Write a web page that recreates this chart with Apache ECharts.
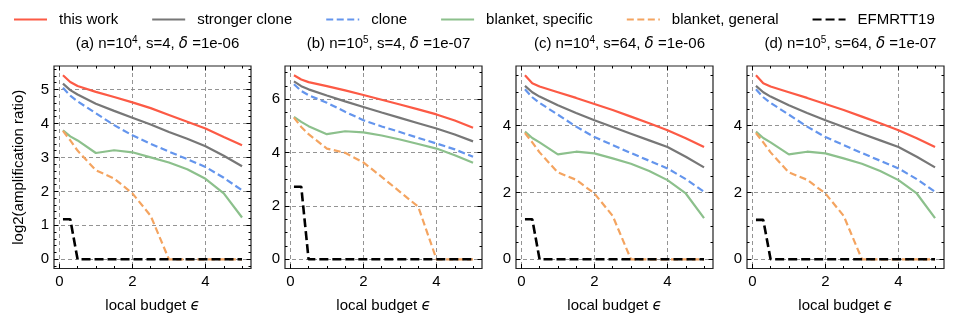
<!DOCTYPE html>
<html>
<head>
<meta charset="utf-8">
<script src="https://cdn.jsdelivr.net/npm/echarts@6/dist/echarts.min.js"></script>
<style>
    html, body { margin: 0; padding: 0; background: #fff; }
    #chart { width: 954px; height: 323px; }
</style>
</head>
<body>
<div id="chart"></div>
<script>
    // local budget eps (x values shared by all panels)
    const eps = [0.1, 0.3, 0.5, 1, 1.5, 2, 2.5, 3, 3.5, 4, 4.5, 5];

    // (a) n=10^4, s=4
    const aThisWork = [5.42, 5.22, 5.10, 4.93, 4.78, 4.62, 4.45, 4.25, 4.05, 3.85, 3.60, 3.36];
    const aStronger = [5.17, 4.98, 4.85, 4.58, 4.37, 4.17, 3.97, 3.75, 3.55, 3.33, 3.05, 2.74];
    const aClone = [5.05, 4.82, 4.65, 4.30, 3.95, 3.65, 3.40, 3.17, 2.95, 2.72, 2.40, 2.03];
    const aBlanketSpec = [3.80, 3.62, 3.50, 3.13, 3.21, 3.15, 3.00, 2.85, 2.65, 2.37, 1.94, 1.23];
    const aBlanketGen = [3.78, 3.50, 3.20, 2.62, 2.38, 1.94, 1.28, 0, 0, 0, 0, 0];
    const aEfm = [1.18, 1.18, 0, 0, 0, 0, 0, 0, 0, 0, 0, 0];

    // (b) n=10^5, s=4
    const bThisWork = [6.90, 6.74, 6.64, 6.49, 6.33, 6.16, 5.98, 5.80, 5.62, 5.43, 5.20, 4.93];
    const bStronger = [6.67, 6.49, 6.37, 6.14, 5.92, 5.71, 5.50, 5.30, 5.10, 4.90, 4.68, 4.42];
    const bClone = [6.56, 6.31, 6.15, 5.87, 5.53, 5.21, 4.98, 4.77, 4.55, 4.34, 4.12, 3.84];
    const bBlanketSpec = [5.34, 5.15, 4.99, 4.69, 4.80, 4.76, 4.64, 4.49, 4.32, 4.15, 3.90, 3.62];
    const bBlanketGen = [5.31, 4.96, 4.69, 4.15, 3.99, 3.63, 3.09, 2.53, 1.97, 0, 0, 0];
    const bEfm = [2.72, 2.72, 0, 0, 0, 0, 0, 0, 0, 0, 0, 0];

    // (c) n=10^4, s=64
    const cThisWork = [5.51, 5.27, 5.17, 5.00, 4.83, 4.65, 4.47, 4.27, 4.07, 3.86, 3.62, 3.36];
    const cStronger = [5.19, 5.00, 4.87, 4.61, 4.38, 4.16, 3.96, 3.76, 3.56, 3.36, 3.07, 2.75];
    const cClone = [5.09, 4.85, 4.68, 4.33, 3.97, 3.66, 3.42, 3.18, 2.95, 2.72, 2.40, 2.02];
    const cBlanketSpec = [3.82, 3.63, 3.50, 3.14, 3.22, 3.17, 3.02, 2.86, 2.64, 2.37, 1.97, 1.23];
    const cBlanketGen = [3.78, 3.50, 3.20, 2.60, 2.38, 1.97, 1.30, 0, 0, 0, 0, 0];
    const cEfm = [1.20, 1.20, 0, 0, 0, 0, 0, 0, 0, 0, 0, 0];

    // (d) n=10^5, s=64
    const dThisWork = [5.51, 5.27, 5.17, 5.00, 4.83, 4.65, 4.47, 4.27, 4.07, 3.86, 3.62, 3.36];
    const dStronger = [5.19, 5.00, 4.87, 4.61, 4.38, 4.16, 3.96, 3.76, 3.56, 3.36, 3.07, 2.75];
    const dClone = [5.09, 4.85, 4.68, 4.33, 3.97, 3.66, 3.42, 3.18, 2.95, 2.72, 2.40, 2.02];
    const dBlanketSpec = [3.82, 3.63, 3.50, 3.14, 3.22, 3.17, 3.02, 2.86, 2.64, 2.37, 1.97, 1.23];
    const dBlanketGen = [3.78, 3.50, 3.20, 2.60, 2.38, 1.97, 1.30, 0, 0, 0, 0, 0];
    const dEfm = [1.18, 1.18, 0, 0, 0, 0, 0, 0, 0, 0, 0, 0];

    const seriesNames = ['this work', 'stronger clone', 'clone', 'blanket, specific', 'blanket, general', 'EFMRTT19'];
    const panelTitles = [
        '(a) n=10{sup|4}, s=4, {d|δ} =1e-06',
        '(b) n=10{sup|5}, s=4, {d|δ} =1e-07',
        '(c) n=10{sup|4}, s=64, {d|δ} =1e-06',
        '(d) n=10{sup|5}, s=64, {d|δ} =1e-07'
    ];
    const xTicks = [0, 2, 4];
    const yTicksA = [0, 1, 2, 3, 4, 5];
    const yTicksB = [0, 2, 4, 6];
    const yTicksCD = [0, 2, 4];

    const panels = [
        {data: [aThisWork, aStronger, aClone, aBlanketSpec, aBlanketGen, aEfm], yTicks: yTicksA, yMinor: 0.2, yMin: -0.271, yMax: 5.691},
        {data: [bThisWork, bStronger, bClone, bBlanketSpec, bBlanketGen, bEfm], yTicks: yTicksB, yMinor: 0.5, yMin: -0.345, yMax: 7.245},
        {data: [cThisWork, cStronger, cClone, cBlanketSpec, cBlanketGen, cEfm], yTicks: yTicksCD, yMinor: 0.5, yMin: -0.2755, yMax: 5.7855},
        {data: [dThisWork, dStronger, dClone, dBlanketSpec, dBlanketGen, dEfm], yTicks: yTicksCD, yMinor: 0.5, yMin: -0.2755, yMax: 5.7855}
    ];

    const colors = ['#fc5a45', '#777777', '#6495ed', '#8cc08c', '#f4a460', '#000000'];
    const dashes = ['solid', 'solid', [7, 3.5], 'solid', [7, 3.5], [9, 4]];
    const widths = [2.2, 2.2, 2.2, 2.2, 2.2, 2.6];

    const font = 'Liberation Sans';
    const xMin = -0.145, xMax = 5.245;
    const gridLeft = [54, 285, 516, 747];
    const gridWidth = 197, gridTop = 66, gridHeight = 202.5;

    function minorValues(min, max, step, majors) {
        let out = [];
        let start = Math.ceil(min / step - 1e-9);
        for (let k = start; k * step <= max + 1e-9; k++) {
            let v = Math.round(k * step * 1000) / 1000;
            if (majors.indexOf(v) < 0) out.push(v);
        }
        return out;
    }

    function tickAxis(gi, pos, min, max, values, len) {
        return {
            type: 'value', gridIndex: gi, position: pos, min: min, max: max,
            axisLine: {show: false, onZero: false},
            axisTick: {show: true, inside: true, length: len, customValues: values, lineStyle: {color: '#000', width: 1}},
            axisLabel: {show: false},
            splitLine: {show: false}
        };
    }

    let grids = [], xAxes = [], yAxes = [], series = [], titles = [];

    panels.forEach((p, i) => {
        grids.push({
            left: gridLeft[i], top: gridTop, width: gridWidth, height: gridHeight,
            show: true, borderColor: '#222', borderWidth: 1.2, backgroundColor: 'transparent'
        });
        titles.push({
            text: panelTitles[i], left: gridLeft[i] + gridWidth / 2, top: 30, textAlign: 'center',
            textStyle: {
                fontFamily: font, fontSize: 15, fontWeight: 'normal', color: '#000',
                rich: {
                    sup: {fontFamily: font, fontSize: 10, verticalAlign: 'top', padding: [0, 0, 8, 0]},
                    d: {fontFamily: 'DejaVu Sans', fontStyle: 'italic', fontSize: 15}
                }
            }
        });

        const xMinor = minorValues(xMin, xMax, 0.5, xTicks);
        const yMinor = minorValues(p.yMin, p.yMax, p.yMinor, p.yTicks);

        // main x axis (bottom) with labels and grid lines
        xAxes.push({
            type: 'value', gridIndex: i, position: 'bottom', min: xMin, max: xMax,
            name: 'local budget {e|ϵ}', nameLocation: 'middle', nameGap: 30,
            nameTextStyle: {fontFamily: font, fontSize: 15, color: '#000',
                rich: {e: {fontFamily: 'DejaVu Sans', fontStyle: 'italic', fontSize: 15}}},
            axisLine: {show: false, onZero: false},
            axisTick: {show: true, inside: true, length: 4.5, customValues: xTicks, lineStyle: {color: '#000', width: 1}},
            axisLabel: {customValues: xTicks, margin: 6, fontFamily: font, fontSize: 15, color: '#000'},
            splitLine: {show: true, lineStyle: {color: '#888', width: 0.9, type: [4, 3]}}
        });
        xAxes.push(tickAxis(i, 'bottom', xMin, xMax, xMinor, 2.5));
        xAxes.push(tickAxis(i, 'top', xMin, xMax, xTicks, 4.5));
        xAxes.push(tickAxis(i, 'top', xMin, xMax, xMinor, 2.5));

        yAxes.push({
            type: 'value', gridIndex: i, position: 'left', min: p.yMin, max: p.yMax,
            name: i === 0 ? 'log2(amplification ratio)' : '', nameLocation: 'middle', nameGap: 28,
            nameTextStyle: {fontFamily: font, fontSize: 15, color: '#000'},
            axisLine: {show: false, onZero: false},
            axisTick: {show: true, inside: true, length: 4.5, customValues: p.yTicks, lineStyle: {color: '#000', width: 1}},
            axisLabel: {customValues: p.yTicks, margin: 5, fontFamily: font, fontSize: 15, color: '#000'},
            splitLine: {show: true, lineStyle: {color: '#888', width: 0.9, type: [4, 3]}}
        });
        yAxes.push(tickAxis(i, 'left', p.yMin, p.yMax, yMinor, 2.5));
        yAxes.push(tickAxis(i, 'right', p.yMin, p.yMax, p.yTicks, 4.5));
        yAxes.push(tickAxis(i, 'right', p.yMin, p.yMax, yMinor, 2.5));

        p.data.forEach((vals, k) => {
            series.push({
                name: seriesNames[k], type: 'line', xAxisIndex: i * 4, yAxisIndex: i * 4,
                data: eps.map((e, j) => [e, vals[j]]),
                symbol: 'none', animation: false, z: 2 + k,
                lineStyle: {color: colors[k], width: widths[k], type: dashes[k]},
                itemStyle: {color: colors[k]}
            });
        });
    });

    let myChart = echarts.init(document.getElementById('chart'));
    myChart.setOption({
        animation: false,
        title: titles,
        legend: {
            data: seriesNames, left: 13, top: 12, padding: 0, itemWidth: 33, itemHeight: 14, itemGap: 33,
            itemStyle: {opacity: 0},
            textStyle: {fontFamily: font, fontSize: 15, color: '#000', padding: [0, 0, 0, 7]}
        },
        grid: grids,
        xAxis: xAxes,
        yAxis: yAxes,
        series: series
    });
</script>
</body>
</html>
